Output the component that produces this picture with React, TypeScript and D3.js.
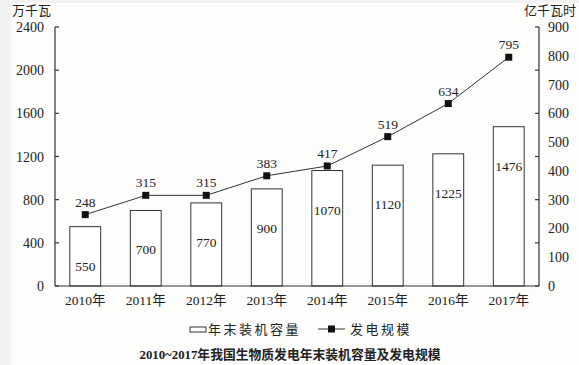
import React from "react";
import * as d3 from "d3";

const years = ["2010年", "2011年", "2012年", "2013年", "2014年", "2015年", "2016年", "2017年"];
const capacity = [550, 700, 770, 900, 1070, 1120, 1225, 1476];
const generation = [248, 315, 315, 383, 417, 519, 634, 795];
const leftTicks = [0, 400, 800, 1200, 1600, 2000, 2400];
const rightTicks = [0, 100, 200, 300, 400, 500, 600, 700, 800, 900];
const leftUnit = "万千瓦";
const rightUnit = "亿千瓦时";
const legendBar = "年末装机容量";
const legendLine = "发电规模";
const title = "2010~2017年我国生物质发电年末装机容量及发电规模";

const W = 579, H = 365;
const L = 55, R = 539, T = 27, B = 286;
const FONT = "'Liberation Serif', 'Times New Roman', 'Noto Sans CJK SC', serif";
const INK = "#222";

export default function App() {
  const x = d3.scaleBand<string>().domain(years).range([L, R]).paddingInner(0.49).paddingOuter(0.245);
  const yL = d3.scaleLinear().domain([0, 2400]).range([B, T]);
  const yR = d3.scaleLinear().domain([0, 900]).range([B, T]);
  const cx = (d: string) => (x(d) as number) + x.bandwidth() / 2;
  const line = d3.line<number>().x((_, i) => cx(years[i])).y((v) => yR(v));

  return (
    <svg width={W} height={H} style={{ position: "absolute", left: 0, top: 0, display: "block" }} fontFamily={FONT}>
      <rect x={0} y={0} width={W} height={H} fill="#f2f2f2" />
      <rect x={11} y={3} width={W - 11} height={H - 3} fill="#fdfdfc" />

      {/* units */}
      <text x={12} y={15} fontSize={13} fill={INK}>{leftUnit}</text>
      <text x={576} y={15} fontSize={13} fill={INK} textAnchor="end">{rightUnit}</text>

      {/* bars */}
      {capacity.map((v, i) => (
        <g key={years[i]}>
          <rect x={x(years[i])} y={yL(v)} width={x.bandwidth()} height={B - yL(v)} fill="#fff" stroke="#333" strokeWidth={1} />
          <text x={cx(years[i])} y={yL(v) + 44} fontSize={13.5} textAnchor="middle" fill={INK}>{v}</text>
        </g>
      ))}

      {/* line */}
      <path d={line(generation) || ""} fill="none" stroke="#333" strokeWidth={1} />
      {generation.map((v, i) => (
        <g key={"g" + i}>
          <rect x={cx(years[i]) - 3.5} y={yR(v) - 3.5} width={7} height={7} fill="#111" />
          <text x={cx(years[i])} y={yR(v) - 8} fontSize={13.5} textAnchor="middle" fill={INK}>{v}</text>
        </g>
      ))}

      {/* axes */}
      <line x1={L} y1={T} x2={L} y2={B} stroke="#333" strokeWidth={1.2} />
      <line x1={R} y1={T} x2={R} y2={B} stroke="#333" strokeWidth={1.2} />
      <line x1={L} y1={B} x2={R} y2={B} stroke="#333" strokeWidth={1.2} />
      {leftTicks.map((t) => (
        <g key={"l" + t}>
          <line x1={L} x2={L + 4} y1={yL(t)} y2={yL(t)} stroke="#333" strokeWidth={1.2} />
          <line x1={R - 4} x2={R} y1={yL(t)} y2={yL(t)} stroke="#333" strokeWidth={1.2} />
          <text x={44} y={yL(t) + 5} fontSize={14} textAnchor="end" fill={INK}>{t}</text>
        </g>
      ))}
      {rightTicks.map((t) => (
        <text key={"r" + t} x={548} y={yR(t) + 5} fontSize={14} fill={INK}>{t}</text>
      ))}
      {years.map((yr) => (
        <text key={yr} x={cx(yr)} y={305} fontSize={13.5} textAnchor="middle" fill={INK}>{yr}</text>
      ))}

      {/* legend */}
      <rect x={190} y={327} width={16} height={5} fill="#fff" stroke="#333" strokeWidth={1} />
      <text x={208} y={334} fontSize={13} letterSpacing={2.5} fill={INK}>{legendBar}</text>
      <line x1={318} x2={345} y1={329} y2={329} stroke="#333" strokeWidth={1} />
      <rect x={328} y={325.5} width={7} height={7} fill="#111" />
      <text x={350} y={334} fontSize={13} letterSpacing={2.5} fill={INK}>{legendLine}</text>

      {/* title */}
      <text x={290} y={359} fontSize={12.8} fontWeight="bold" textAnchor="middle" fill={INK}>{title}</text>
    </svg>
  );
}
